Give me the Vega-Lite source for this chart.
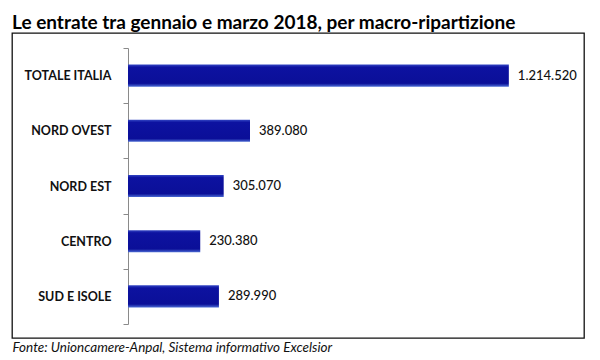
{
  "$schema": "https://vega.github.io/schema/vega-lite/v6.json",
  "width": 572,
  "height": 305,
  "autosize": {"type": "none"},
  "padding": {"left": 12, "top": 33, "right": 16, "bottom": 22},
  "background": "white",
  "title": {
    "text": "Le entrate tra gennaio e marzo 2018, per macro-ripartizione",
    "anchor": "start",
    "frame": "group",
    "font": "Lato",
    "fontSize": 19,
    "fontWeight": "bold",
    "color": "black",
    "offset": 9,
    "dy": 15
  },
  "data": {
    "values": [
      {"area": "TOTALE ITALIA", "entrate": 1214520},
      {"area": "NORD OVEST", "entrate": 389080},
      {"area": "NORD EST", "entrate": 305070},
      {"area": "CENTRO", "entrate": 230380},
      {"area": "SUD E ISOLE", "entrate": 289990}
    ]
  },
  "encoding": {
    "y": {
      "field": "area",
      "type": "nominal",
      "sort": null,
      "scale": {"range": [15, 291], "paddingInner": 0, "paddingOuter": 0},
      "axis": {
        "title": null,
        "offset": -116,
        "tickBand": "extent",
        "domainColor": "#8a8a8a",
        "tickColor": "#8a8a8a",
        "tickSize": 5,
        "labelFont": "Lato",
        "labelFontSize": 12.5,
        "labelFontWeight": "bold",
        "labelColor": "#111",
        "labelPadding": 12
      }
    },
    "x": {
      "field": "entrate",
      "type": "quantitative",
      "scale": {"domain": [0, 1400000], "range": [116, 555]},
      "axis": {
        "domain": false,
        "ticks": false,
        "labels": false,
        "grid": false,
        "title": "Fonte: Unioncamere-Anpal, Sistema informativo Excelsior",
        "titleX": 0,
        "titleY": 13,
        "titleAlign": "left",
        "titleAnchor": null,
        "titleBaseline": "alphabetic",
        "titleFont": "Lato",
        "titleFontSize": 13.5,
        "titleFontStyle": "italic",
        "titleFontWeight": "normal",
        "titleColor": "#111"
      }
    }
  },
  "layer": [
    {
      "mark": {
        "type": "bar",
        "height": {"band": 0.4},
        "color": {
          "gradient": "linear",
          "x1": 0, "y1": 0, "x2": 0, "y2": 1,
          "stops": [
            {"offset": 0, "color": "#3346c4"},
            {"offset": 0.12, "color": "#0d12a0"},
            {"offset": 0.85, "color": "#0b0f98"},
            {"offset": 1, "color": "#4a6ad4"}
          ]
        }
      }
    },
    {
      "mark": {
        "type": "text",
        "align": "left",
        "baseline": "middle",
        "dx": 9,
        "font": "Lato",
        "fontSize": 13,
        "fontWeight": 500,
        "color": "#111"
      },
      "encoding": {"text": {"field": "entrate", "type": "quantitative", "format": ",.0f"}}
    }
  ],
  "config": {
    "view": {"stroke": "#111", "strokeWidth": 1.3},
    "locale": {"number": {"decimal": ",", "thousands": ".", "grouping": [3], "currency": ["€", ""]}}
  }
}
